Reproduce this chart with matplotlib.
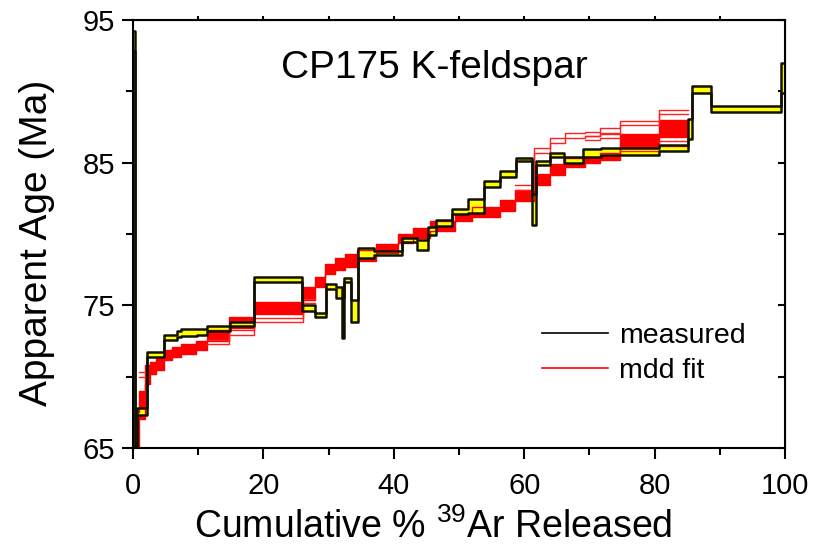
import numpy as np
import matplotlib
matplotlib.use('Agg')
import matplotlib.pyplot as plt
from matplotlib.lines import Line2D

# measured age spectrum: step edges (cum. % 39Ar), age and 1-sigma half width (Ma)
meas_edges = [0.0, 0.3, 0.6, 2.1, 4.8, 6.8, 7.4, 9.8, 11.3, 14.8, 18.6, 25.9, 27.9,
              29.6, 31.1, 32.0, 32.4, 33.4, 34.5, 37.0, 41.2, 43.5, 45.3, 46.5, 48.9,
              51.4, 53.9, 56.3, 58.7, 61.2, 61.8, 64.0, 66.1, 69.0, 71.7, 80.7, 85.1,
              85.7, 88.6, 99.4, 100.0]
meas_age = [93.5, 62.0, 67.55, 71.55, 72.72, 73.0, 73.1, 73.15, 73.38, 73.68, 76.83,
            74.83, 74.33, 76.33, 75.9, 74.1, 76.8, 74.6, 78.7, 78.65, 79.6, 79.2, 80.2,
            80.76, 81.58, 81.95, 83.52, 84.18, 85.22, 81.7, 84.98, 85.55, 85.2, 85.68,
            85.78, 86.05, 87.35, 90.12, 88.75, 90.93]
meas_err = [0.7, 1.0, 0.25, 0.15, 0.18, 0.2, 0.25, 0.2, 0.17, 0.13, 0.17,
            0.22, 0.13, 0.17, 0.4, 1.4, 0.15, 0.8, 0.35, 0.15, 0.15, 0.35, 0.3,
            0.21, 0.18, 0.5, 0.22, 0.22, 0.12, 1.07, 0.13, 0.15, 0.2, 0.27,
            0.22, 0.2, 0.7, 0.27, 0.2, 1.07]

# mdd model fits: step edges, envelope of the dense set of fits, and outlying fits
fit_edges = [0.3, 0.9, 1.8, 2.6, 3.5, 4.8, 6.0, 7.4, 9.6, 11.3, 14.7, 18.6, 26.0,
             27.9, 29.4, 31.0, 32.5, 34.4, 37.2, 40.6, 42.9, 45.6, 49.4, 52.0, 56.3,
             58.6, 61.5, 64.0, 66.3, 69.3, 71.6, 74.7, 80.6, 85.1]
fit_lo = [63.0, 67.0, 69.5, 70.2, 70.5, 71.2, 71.4, 71.6, 71.9, 72.5, 73.4, 74.4,
          75.4, 76.3, 77.2, 77.5, 77.7, 78.1, 78.7, 79.4, 79.7, 80.2, 80.9, 81.2,
          81.6, 82.3, 83.4, 84.1, 84.7, 85.0, 85.2, 86.1, 86.8]
fit_hi = [67.5, 69.0, 70.8, 71.0, 71.3, 71.9, 72.1, 72.3, 72.5, 73.3, 74.2, 75.2,
          76.3, 77.0, 77.9, 78.3, 78.6, 78.9, 79.3, 80.0, 80.4, 80.9, 81.4, 81.9,
          82.4, 83.1, 84.2, 84.9, 85.3, 85.4, 85.7, 87.0, 88.0]
nan = np.nan
fit_out_hi = [nan, 70.15, nan, nan, nan, nan, nan, nan, nan, nan, nan, nan,
              nan, nan, nan, nan, nan, nan, nan, nan, nan, nan, nan, nan,
              nan, 83.25, 85.85, 86.55, 86.9, 87.0, 87.25, 87.8, 88.55]
fit_out_mid = [nan, nan, nan, nan, nan, nan, nan, nan, nan, nan, nan, nan,
               nan, nan, nan, nan, nan, nan, nan, nan, nan, nan, nan, nan,
               nan, nan, nan, nan, nan, 86.75, 86.85, nan, nan]
fit_out_lo = [nan, nan, nan, nan, nan, nan, nan, nan, nan, 72.45, 73.1, 73.95,
              75.3, nan, nan, nan, nan, nan, nan, nan, nan, nan, nan, nan,
              nan, nan, nan, nan, nan, nan, nan, 85.95, 86.35]

title = 'CP175 K-feldspar'
legend_labels = ['measured', 'mdd fit']

plt.rcParams['font.family'] = ['Liberation Sans', 'DejaVu Sans']
plt.rcParams['mathtext.default'] = 'regular'


def ext(v):
    v = np.asarray(v, dtype=float)
    return np.append(v, v[-1])


fig = plt.figure(figsize=(8.13, 5.52), dpi=100)
ax = fig.add_axes([0.1636, 0.1884, 0.8020, 0.7754])

# fits (drawn first, under the measured spectrum)
fx = np.asarray(fit_edges)
ax.fill_between(fx, ext(fit_lo), ext(fit_hi), step='post', color='#ff0000', lw=0)
for arr in (fit_lo, fit_hi):
    ax.plot(fx, ext(arr), drawstyle='steps-post', color='#ff0000', lw=1.0)
for arr in (fit_out_hi, fit_out_mid, fit_out_lo):
    a = np.asarray(arr, dtype=float)
    for off in (-0.15, 0.15):
        ax.plot(fx, ext(a + off), drawstyle='steps-post', color='#ff2020', lw=1.0)

# measured spectrum boxes
mx = np.asarray(meas_edges)
age = np.asarray(meas_age)
err = np.asarray(meas_err)
ax.fill_between(mx, ext(age - err), ext(age + err), step='post', color='#ffff00', lw=0)
for arr in (age - err, age + err):
    ax.plot(mx, ext(arr), drawstyle='steps-post', color='#111100', lw=1.8)

ax.set_xlim(0, 100)
ax.set_ylim(65, 95)
ax.set_xticks([0, 20, 40, 60, 80, 100])
ax.set_xticks([10, 30, 50, 70, 90], minor=True)
ax.set_yticks([65, 75, 85, 95])
ax.set_yticks([70, 80, 90], minor=True)
ax.tick_params(which='both', direction='out', width=1.5, labelsize=21)
ax.tick_params(which='major', length=8)
ax.tick_params(which='minor', length=5)
ax.tick_params(axis='x', pad=9)
ax.tick_params(axis='y', pad=5)
# mirrored ticks: short ones on top, inward ones on the right
sy = ax.secondary_yaxis('right')
sy.set_yticks([65, 70, 75, 80, 85, 90, 95])
sy.tick_params(direction='in', length=5, width=1.5, labelright=False)
sx = ax.secondary_xaxis('top')
sx.set_xticks([10, 20, 30, 40, 50, 60, 70, 80, 90])
sx.tick_params(direction='out', length=3, width=1.5, labeltop=False)
for s in ax.spines.values():
    s.set_linewidth(1.5)

ax.set_xlabel(r'Cumulative % $^{39}$Ar Released', fontsize=27)
ax.xaxis.set_label_coords(0.46, -0.14)
ax.set_ylabel('Apparent Age (Ma)', fontsize=28)
ax.yaxis.set_label_coords(-0.12, 0.48)

ax.text(46.2, 91.6, title, fontsize=28, ha='center', va='center')

handles = [Line2D([], [], color='black', lw=1.2), Line2D([], [], color='#ff0000', lw=1.2)]
ax.legend(handles, legend_labels, loc='upper left', bbox_to_anchor=(0.61, 0.318),
          frameon=False, fontsize=20.5, handlelength=2.3, handletextpad=0.4,
          labelspacing=0.3, borderaxespad=0)

fig.savefig('out.png', dpi=100)
